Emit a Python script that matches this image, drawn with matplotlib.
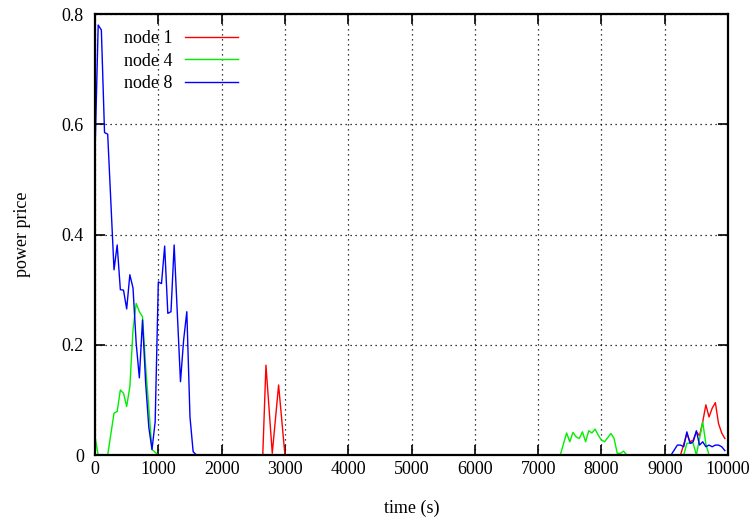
import matplotlib
matplotlib.use("Agg")
import matplotlib.pyplot as plt
from matplotlib.ticker import FuncFormatter

plt.rcParams["font.family"] = ["Liberation Serif", "DejaVu Serif"]

# node 1 (red)
t_node1 = [0, 2600, 2650, 2700, 2800, 2900, 3000, 9200, 9250, 9350, 9400, 9450, 9500,
           9550, 9600, 9650, 9700, 9750, 9800, 9850, 9900, 9950]
p_node1 = [0, 0, 0, 0.163, 0.003, 0.127, 0, 0, 0, 0.039, 0.024, 0.027, 0.042,
           0.035, 0.060, 0.091, 0.069, 0.085, 0.095, 0.057, 0.040, 0.030]

# node 4 (green)
t_node4 = [0, 50, 200, 300, 350, 400, 450, 500, 550, 600, 650, 700, 750, 800, 900, 1000,
           7350, 7450, 7500, 7550, 7600, 7650, 7700, 7750, 7800, 7850, 7900, 7950, 8000,
           8050, 8150, 8200, 8250, 8300, 8350, 8400, 9300, 9350, 9400, 9450, 9500, 9600,
           9650, 9700, 9950]
p_node4 = [0.033, 0, 0, 0.076, 0.079, 0.118, 0.112, 0.088, 0.124, 0.227, 0.275, 0.260,
           0.251, 0.160, 0.010, 0,
           0, 0.040, 0.024, 0.041, 0.033, 0.030, 0.042, 0.024, 0.044, 0.040, 0.047, 0.036,
           0.027, 0.024, 0.039, 0.030, 0.003, 0.003, 0.007, 0, 0, 0.021, 0.022, 0.021,
           0, 0.060, 0.020, 0, 0]

# node 8 (blue)
t_node8 = [0, 50, 100, 150, 200, 300, 350, 400, 450, 500, 550, 600, 650, 700, 750, 800,
           850, 900, 950, 1000, 1050, 1100, 1150, 1200, 1250, 1350, 1400, 1450, 1500, 1550,
           1600, 9100, 9200, 9250, 9300, 9350, 9400, 9450, 9500, 9550, 9600, 9650, 9700,
           9750, 9800, 9850, 9900, 9950]
p_node8 = [0.55, 0.780, 0.771, 0.585, 0.582, 0.336, 0.381, 0.300, 0.299, 0.265, 0.327,
           0.303, 0.203, 0.140, 0.245, 0.130, 0.050, 0.010, 0.060, 0.314, 0.311, 0.379,
           0.257, 0.260, 0.381, 0.133, 0.209, 0.260, 0.069, 0.006, 0, 0, 0.018, 0.018,
           0.015, 0.042, 0.021, 0.024, 0.044, 0.018, 0.024, 0.015, 0.018, 0.015, 0.018,
           0.018, 0.015, 0.008]

xticks = list(range(0, 10001, 1000))
yticks = [0, 0.2, 0.4, 0.6, 0.8]

fig = plt.figure(figsize=(7.56, 5.19), dpi=100)
ax = fig.add_axes([0.1257, 0.1233, 0.8373, 0.8497])

ax.plot(t_node1, p_node1, color="#ff0000", lw=1.0, label="node 1")
ax.plot(t_node4, p_node4, color="#00ee00", lw=1.0, label="node 4")
ax.plot(t_node8, p_node8, color="#0000ff", lw=1.0, label="node 8")

ax.set_xlim(0, 10000)
ax.set_ylim(0, 0.8)
ax.set_xticks(xticks)
ax.set_yticks(yticks)
ax.yaxis.set_major_formatter(FuncFormatter(lambda v, p: "0" if v == 0 else f"{v:.1f}"))
ax.tick_params(direction="in", top=True, right=True, length=7, width=1.2,
               labelsize=13)
ax.tick_params(axis="x", pad=4)
ax.tick_params(axis="y", pad=8)
ax.grid(True, color="black", linestyle=(0, (1, 3)), linewidth=0.9)
for s in ax.spines.values():
    s.set_linewidth(1.6)

ax.set_xlabel("time (s)", fontsize=13, labelpad=16)
ax.set_ylabel("power price", fontsize=13, labelpad=22)

leg = ax.legend(loc="upper left", bbox_to_anchor=(0.02, 1.0), frameon=False,
                fontsize=13, markerfirst=False, handlelength=2.9, labelspacing=0.3,
                handletextpad=0.7)

plt.savefig("out.png", dpi=100)
